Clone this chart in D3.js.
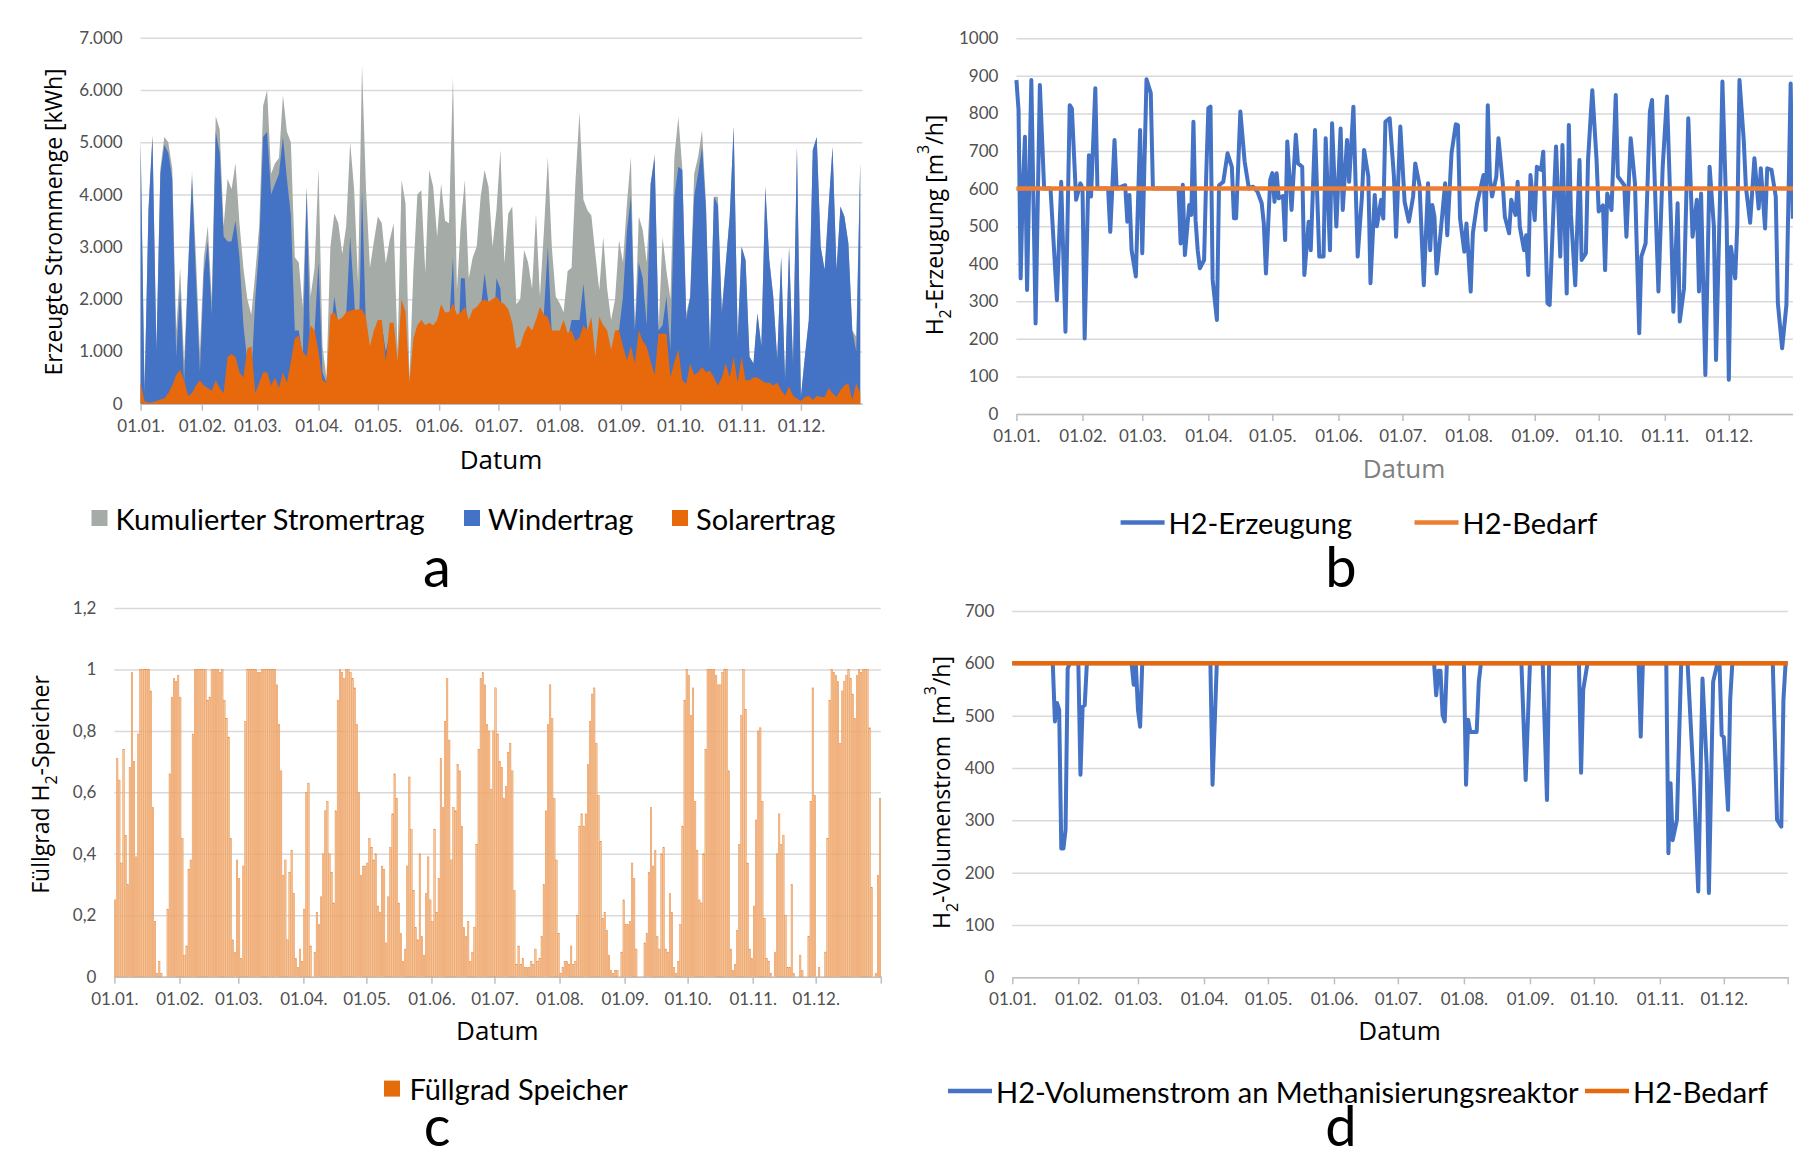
<!DOCTYPE html>
<html>
<head>
<meta charset="utf-8">
<script src="https://cdn.jsdelivr.net/npm/d3@7"></script>
<style>
  body { margin: 0; background: #fff; }
  svg { display: block; }
</style>
</head>
<body>
<div id="chart"></div>
<script>
// Monatsanfaenge (Tag im Jahr) und Beschriftungen
const monthDays = [0, 31, 59, 90, 120, 151, 181, 212, 243, 273, 304, 334];
const monthLabels = ["01.01.", "01.02.", "01.03.", "01.04.", "01.05.", "01.06.",
  "01.07.", "01.08.", "01.09.", "01.10.", "01.11.", "01.12."];

// a: Stromertrag, alle 2 Tage (Tsd. kWh)
const aStep = 2;
const totalA = [5.1,0.3,3.75,5.15,1.05,4.5,5.1,5.0,4.5,1.4,
  2.6,0.8,2.6,4.45,2.8,1.0,2.8,3.4,2.0,5.5,
  5.25,3.4,4.3,4.1,4.6,3.45,2.6,2.0,1.7,2.5,
  3.4,5.7,6.0,4.4,4.6,4.7,5.9,5.2,5.0,2.8,
  2.7,1.85,4.15,2.05,2.6,4.5,1.1,0.5,3.0,3.64,
  3.45,2.87,3.4,5.0,4.1,2.3,6.48,4.1,2.6,3.1,
  3.58,3.45,2.68,3.13,3.45,1.0,4.28,3.83,0.5,2.55,
  4.0,4.08,2.5,4.47,4.15,3.19,4.21,3.5,3.45,6.25,
  2.17,3.45,4.28,2.4,2.8,3.0,3.96,4.47,4.15,3.0,
  3.7,4.85,2.68,3.64,3.77,1.9,2.0,2.94,2.7,2.2,
  3.64,2.05,3.3,4.72,3.0,2.05,1.92,1.75,2.54,2.6,
  4.28,5.58,3.9,3.7,3.6,2.87,2.17,3.19,2.2,1.6,
  2.0,3.13,2.7,3.83,4.72,1.4,3.58,3.32,2.7,4.21,
  4.78,1.4,3.19,2.54,2.0,4.72,5.49,4.5,1.73,2.05,
  4.4,4.72,5.23,3.83,1.1,3.96,3.96,1.8,2.68,3.6,
  5.3,1.3,3.0,2.75,0.9,0.77,1.73,1.1,4.15,2.75,
  2.05,0.85,2.81,0.45,3.0,0.77,4.91,0.13,0.9,1.6,
  4.85,5.1,3.0,2.56,3.77,4.91,2.56,3.77,3.58,3.07,
  1.4,1.28,4.6];
const windA = [5.0,0.2,3.7,5.1,1.0,4.4,4.95,4.8,4.3,0.9,
  2.2,0.4,2.5,4.3,2.4,0.6,2.5,3.1,1.7,5.2,
  4.8,3.2,3.1,3.1,3.5,2.8,1.5,0.8,0.5,2.0,
  3.0,5.1,5.2,4.0,4.2,4.4,5.1,4.3,3.6,1.4,
  1.4,0.9,4.1,0.6,1.4,2.7,0.6,0.4,1.3,2.05,
  1.5,1.2,1.7,3.2,2.05,0.5,4.1,1.4,1.0,1.2,
  1.5,1.5,1.0,1.3,1.5,0.3,1.9,1.6,0.1,1.1,
  1.5,1.5,0.9,1.5,1.4,1.4,1.8,1.5,1.5,2.8,
  0.5,2.4,2.4,0.8,1.0,1.2,1.8,2.5,1.9,1.0,
  2.4,2.2,0.8,1.7,1.5,0.8,0.9,1.3,1.2,0.9,
  1.6,0.2,1.73,3.0,1.3,0.65,0.5,0.15,1.2,1.6,
  1.6,1.6,2.3,1.4,1.4,0.77,1.0,1.4,0.9,0.95,
  1.0,1.4,2.05,3.3,3.96,1.4,2.7,2.4,1.5,4.21,
  4.7,1.4,1.5,2.05,1.03,3.96,4.53,4.47,1.6,2.05,
  3.96,4.4,4.91,3.7,1.0,3.96,3.8,1.73,2.68,3.58,
  5.3,1.22,3.0,2.75,0.9,0.77,1.73,1.1,4.15,2.75,
  2.05,0.85,2.81,0.45,3.0,0.77,4.91,0.13,0.9,1.6,
  4.85,5.1,3.0,2.56,3.77,4.91,2.56,3.77,3.58,3.07,
  1.4,1.0,4.6];
const solarA = [0.4,0.05,0.02,0.03,0.05,0.08,0.1,0.2,0.35,0.55,
  0.65,0.45,0.15,0.2,0.35,0.45,0.35,0.3,0.25,0.45,
  0.3,0.2,0.9,0.95,0.9,0.6,0.5,1.05,1.1,0.2,
  0.4,0.6,0.6,0.35,0.5,0.3,0.6,0.4,0.8,1.25,
  1.3,1.0,0.9,1.5,1.4,1.0,0.45,0.4,1.7,1.75,
  1.6,1.65,1.75,1.78,1.8,1.8,1.8,1.65,1.1,1.4,
  1.6,1.6,0.8,1.55,1.55,0.8,2.0,1.75,0.4,1.25,
  1.5,1.6,1.5,1.55,1.5,1.6,1.9,1.75,1.75,1.92,
  1.7,1.75,1.85,1.6,1.8,1.85,1.95,2.0,1.95,2.0,
  2.05,1.95,1.9,1.8,1.55,1.05,1.1,1.35,1.5,1.4,
  1.6,1.85,1.7,1.66,1.4,1.4,1.4,1.6,1.35,1.4,
  1.2,1.27,1.5,1.4,1.66,0.9,1.66,1.5,1.4,1.03,
  1.4,1.41,1.1,0.83,1.1,0.77,1.4,1.2,1.09,0.8,
  0.55,1.34,1.34,1.34,0.5,0.8,1.03,0.45,0.38,0.77,
  0.55,0.6,0.7,0.6,0.63,0.5,0.35,0.5,0.77,0.5,
  0.9,0.4,0.9,0.45,0.45,0.5,0.5,0.45,0.4,0.4,
  0.35,0.4,0.26,0.15,0.33,0.15,0.1,0.05,0.13,0.15,
  0.07,0.15,0.13,0.13,0.3,0.2,0.13,0.26,0.35,0.39,
  0.07,0.39,0.2];
const aYTicks = [0, 1000, 2000, 3000, 4000, 5000, 6000, 7000];

// b: H2-Erzeugung [Tag, m3/h]
const h2Erzeugung = [[0,889],[1,810],[2,361],[3,600],[4,738],[5,330],[7,889],[9,241],[11,876],[13,600],
  [16,600],[19,303],[21,618],[23,219],[25,822],[26,813],[28,570],[30,614],[31,600],[32,201],
  [34,689],[35,579],[37,867],[38,600],[43,600],[44,485],[46,729],[47,600],[51,609],[52,512],
  [53,583],[54,436],[56,366],[58,756],[59,428],[61,891],[63,854],[64,600],[76,600],[77,454],
  [78,610],[79,423],[81,556],[82,530],[83,778],[84,516],[85,436],[86,388],[88,410],[89,636],
  [90,814],[91,818],[92,357],[94,250],[95,609],[97,618],[99,694],[101,658],[102,521],[103,521],
  [105,805],[107,672],[109,600],[111,605],[113,592],[115,561],[116,507],[117,374],[119,623],[120,641],
  [121,565],[122,641],[123,574],[125,580],[126,463],[127,725],[129,543],[131,743],[132,667],[134,658],
  [135,370],[137,512],[138,436],[140,756],[142,419],[144,419],[145,734],[147,436],[148,774],[150,499],
  [152,760],[153,543],[155,729],[156,618],[158,818],[160,419],[162,579],[163,703],[165,632],[166,348],
  [168,583],[169,500],[171,570],[172,520],[173,778],[175,787],[177,632],[178,472],[180,765],[182,565],
  [184,512],[186,579],[187,667],[189,609],[191,343],[193,614],[194,436],[195,556],[196,525],[197,374],
  [199,490],[201,614],[202,476],[204,694],[206,771],[207,769],[208,521],[210,432],[211,507],[213,326],
  [214,481],[216,561],[219,636],[220,490],[221,822],[222,627],[223,579],[225,632],[226,734],[228,614],
  [229,525],[231,481],[232,570],[234,530],[235,618],[236,499],[238,436],[239,476],[240,370],[241,636],
  [243,516],[244,658],[246,650],[247,698],[249,295],[250,290],[252,574],[253,712],[255,419],[256,716],
  [258,321],[259,769],[260,530],[262,343],[264,676],[265,410],[267,428],[268,676],[270,862],[272,676],
  [273,539],[275,555],[276,383],[277,587],[279,543],[281,849],[282,632],[285,609],[286,472],[288,734],
  [290,614],[292,215],[293,419],[295,454],[297,805],[298,836],[301,326],[303,658],[305,845],[307,490],
  [308,272],[310,561],[311,246],[313,335],[315,787],[317,472],[319,570],[320,326],[321,587],[323,104],
  [325,658],[327,499],[328,144],[330,605],[331,885],[333,507],[334,91],[335,445],[337,361],[338,507],
  [339,889],[341,729],[342,605],[344,509],[346,681],[348,547],[349,654],[351,494],[352,654],[354,650],
  [356,579],[357,295],[359,175],[361,290],[363,880],[364,520]];
const h2Bedarf = 600;
const bYTicks = [0, 100, 200, 300, 400, 500, 600, 700, 800, 900, 1000];

// c: Fuellgrad Speicher, taeglich
const fuellgrad = [
  0.25,0.71,0.64,0.37,0.74,0.46,0.30,0.68,0.99,0.70,0.39,0.79,1,1,1,1,1,0.93,0.55,0.18,0.01,0.05,0.01,0,0,0.22,0.66,0.91,0.97,0.96,0.98,
  0.91,0.45,0.07,0.10,0.35,0.38,0.79,1,1,1,1,1,1,0.90,0.91,1,1,1,1,0.99,1,0.90,0.84,0.78,0.45,0.12,0.08,0.38,
  0.32,0.06,0.36,0.83,1,1,1,1,1,0.99,0.99,1,1,1,1,1,1,1,0.95,0.82,0.67,0.33,0.38,0.12,0.34,0.41,0.27,0.06,0.03,0.09,0.05,
  0.22,0.60,0.63,0.10,0,0.08,0.21,0.17,0.26,0.40,0.54,0.57,0.40,0.34,0.24,0.54,0.90,1,0.99,0.97,1,1,0.99,0.97,0.94,0.82,0.60,0.33,0.36,0.36,
  0.37,0.45,0.42,0.38,0.40,0.23,0.21,0.36,0.35,0.11,0.26,0.42,0.53,0.66,0.58,0.24,0.14,0.05,0.09,0.36,0.65,0.48,0.28,0.16,0.12,0.40,0.13,0.07,0.27,0.39,0.25,
  0.18,0.48,0.21,0.32,0.71,0.55,0.83,0.97,0.77,0.38,0.55,0.54,0.69,0.67,0.49,0.16,0.13,0.18,0.05,0.08,0.16,0.43,0.74,0.97,0.99,0.95,0.82,0.80,0.61,0.80,
  0.94,0.79,0.70,0.68,0.58,0.62,0.73,0.76,0.67,0.28,0.04,0.10,0.04,0.06,0.03,0.03,0.03,0.05,0.04,0.09,0.05,0.06,0.13,0.30,0.54,0.82,0.95,0.84,0.58,0.38,0.14,
  0.01,0.03,0.05,0.05,0.04,0.10,0.04,0.05,0.20,0.49,0.53,0.49,0.53,0.69,0.83,0.92,0.94,0.76,0.59,0.44,0.19,0.21,0.15,0.07,0.02,0.01,0.02,0.02,0,0.08,0.25,
  0.17,0.17,0.18,0.37,0.32,0.09,0,0,0,0.11,0.14,0.34,0.55,0.36,0.41,0.13,0.09,0.40,0.42,0.09,0.08,0.27,0.21,0.03,0.01,0.05,0.17,0.49,0.90,1,
  0.98,0.85,0.94,0.57,0.41,0.25,0.24,0.40,0.74,1,1,1,1,0.98,0.95,0.95,0.99,1,1,0.67,0.09,0.02,0.04,0.15,0.43,0.85,1,0.87,0.37,0.09,0.06,
  0.23,0.51,0.80,0.81,0.57,0.19,0.06,0.05,0.01,0,0.08,0.40,0.53,0.43,0.46,0.20,0.03,0.03,0.30,0.01,0,0,0.07,0.02,0,0,0.13,0.57,0.94,0.59,
  0,0.03,0,0,0.08,0.45,0.90,1,0.99,0.98,0.96,0.76,0.93,0.96,0.98,1,0.97,0.92,0.84,0.98,1,0.99,1,1,1,0.81,0.29,0,0.01,0.33,0.58];
const cYTicks = [0, 0.2, 0.4, 0.6, 0.8, 1, 1.2];

// d: H2-Volumenstrom an Methanisierungsreaktor [Tag, m3/h]
const h2Volumenstrom = [[0,600],[19,600],[20,489],[21,524],[22,511],[23,246],[24,246],[25,282],[26,590],[27,600],
  [31,600],[32,387],[33,517],[34,520],[35,600],[56,600],[57,559],[58,597],[59,511],[60,479],
  [61,600],[93,600],[94,368],[96,600],[198,600],[199,539],[200,586],[201,586],[202,501],[203,489],
  [204,600],[212,600],[213,368],[214,492],[215,469],[218,469],[219,565],[220,600],[239,600],[241,377],
  [243,600],[249,600],[251,339],[252,600],[266,600],[267,391],[268,549],[270,600],[294,600],[295,460],
  [296,600],[307,600],[308,237],[309,371],[310,262],[312,301],[313,454],[314,600],[317,600],[320,364],
  [322,164],[324,571],[326,403],[327,161],[329,565],[331,600],[332,600],[333,463],[334,459],[336,320],
  [337,530],[338,600],[357,600],[359,301],[361,288],[362,530],[363,600],[364,600]];
const dYTicks = [0, 100, 200, 300, 400, 500, 600, 700];

const blue = "#4472C4";
const orange = "#E8690B";
const grey = "#A5ABA7";
const gridColor = "#D9D9D9";
const tickColor = "#505050";

const de = d3.formatLocale({ decimal: ",", thousands: ".", grouping: [3], currency: ["", " €"] });

const svg = d3.select("#chart")
  .append("svg")
  .attr("width", 1793)
  .attr("height", 1161)
  .style("font-family", "Lato, sans-serif");

function drawFrame(x, y, yTicks, fmt, xEnd) {
  const [l, r] = x.range();
  const [b, t] = y.range();
  svg.append("g")
    .attr("transform", `translate(${l},0)`)
    .call(d3.axisLeft(y).tickValues(yTicks).tickFormat(fmt).tickSize(-(r - l)).tickPadding(18))
    .call((g) => g.select(".domain").remove())
    .call((g) => g.selectAll("line").attr("stroke", gridColor).attr("stroke-width", 1.5))
    .call((g) => g.selectAll("text").attr("fill", tickColor).style("font-size", "17px").style("font-family", "Lato"));

  const ticks = xEnd == null ? monthDays : monthDays.concat([xEnd]);
  svg.append("g")
    .attr("transform", `translate(0,${b})`)
    .call(d3.axisBottom(x).tickValues(ticks)
      .tickFormat((d) => { const i = monthDays.indexOf(d); return i < 0 ? "" : monthLabels[i]; })
      .tickSize(7).tickPadding(9).tickSizeOuter(0))
    .call((g) => g.select(".domain").attr("stroke", "#BFBFBF").attr("stroke-width", 1.5))
    .call((g) => g.selectAll("line").attr("stroke", "#BFBFBF").attr("stroke-width", 1.5))
    .call((g) => g.selectAll("text").attr("fill", tickColor).style("font-size", "17px").style("font-family", "Lato"));
}

function yTitle(cx, cy, parts) {
  const t = svg.append("text")
    .attr("transform", `translate(${cx},${cy}) rotate(-90)`)
    .attr("text-anchor", "middle")
    .attr("dominant-baseline", "central")
    .attr("fill", "#000")
    .style("font-family", "Open Sans")
    .style("font-size", "23px")
    .style("white-space", "pre");
  parts.forEach((p) => {
    const s = t.append("tspan").text(p.t);
    if (p.sub) s.attr("baseline-shift", "sub").style("font-size", "16px");
    if (p.sup) s.attr("baseline-shift", "super").style("font-size", "16px");
  });
}

function label(x, y, txt, size, color, family, anchor) {
  svg.append("text")
    .attr("x", x)
    .attr("y", y)
    .attr("text-anchor", anchor || "middle")
    .attr("dominant-baseline", "central")
    .attr("fill", color)
    .style("font-family", family)
    .style("font-size", size + "px")
    .text(txt);
}

function letter(x, y, txt) {
  svg.append("text").attr("x", x).attr("y", y).attr("text-anchor", "middle")
    .style("font-family", "Lato").style("font-size", "56px").text(txt);
}

// ---------- a ----------
const xA = d3.scaleLinear().domain([0, 365]).range([140.6, 862.2]);
const yA = d3.scaleLinear().domain([0, 7000]).range([403.7, 37.7]);
drawFrame(xA, yA, aYTicks, de.format(","));

const areaA = (arr) => d3.area()
  .x((d, i) => xA(i * aStep))
  .y0(yA(0))
  .y1((d) => yA(d * 1000))(arr);

svg.append("path").attr("d", areaA(totalA)).attr("fill", grey);
svg.append("path").attr("d", areaA(windA)).attr("fill", blue);
svg.append("path").attr("d", areaA(solarA)).attr("fill", orange);

yTitle(52.6, 222, [{ t: "Erzeugte Strommenge [kWh]" }]);
label(501, 458.5, "Datum", 26, "#000", "Open Sans");

const legA = [
  { name: "Kumulierter Stromertrag", color: grey, x: 91.5 },
  { name: "Windertrag", color: blue, x: 464 },
  { name: "Solarertrag", color: orange, x: 672 }
];
legA.forEach((d) => {
  svg.append("rect").attr("x", d.x).attr("y", 510).attr("width", 16).attr("height", 16).attr("fill", d.color);
  label(d.x + 24, 518, d.name, 29, "#000", "Lato", "start");
});
letter(437, 587, "a");

// ---------- b ----------
const xB = d3.scaleLinear().domain([0, 364]).range([1016.4, 1792.8]);
const yB = d3.scaleLinear().domain([0, 1000]).range([414, 38.3]);
drawFrame(xB, yB, bYTicks, (d) => String(d));

svg.append("path")
  .datum(h2Erzeugung)
  .attr("d", d3.line().x((d) => xB(d[0])).y((d) => yB(d[1])))
  .attr("fill", "none")
  .attr("stroke", blue)
  .attr("stroke-width", 4)
  .attr("stroke-linejoin", "round");
svg.append("line")
  .attr("x1", xB(0)).attr("x2", 1793)
  .attr("y1", yB(h2Bedarf)).attr("y2", yB(h2Bedarf))
  .attr("stroke", "#ED7D31").attr("stroke-width", 4.5);

yTitle(934, 225, [{ t: "H" }, { t: "2", sub: true }, { t: "-Erzeugung [m" }, { t: "3", sup: true }, { t: "/h]" }]);
label(1404, 467.7, "Datum", 26, "#7F7F7F", "Open Sans");

const legB = [
  { name: "H2-Erzeugung", color: blue, x: 1120.6 },
  { name: "H2-Bedarf", color: "#ED7D31", x: 1414.5 }
];
legB.forEach((d) => {
  svg.append("line").attr("x1", d.x).attr("x2", d.x + 44).attr("y1", 522.6).attr("y2", 522.6)
    .attr("stroke", d.color).attr("stroke-width", 4.5);
  label(d.x + 48, 522.6, d.name, 29, "#000", "Lato", "start");
});
letter(1341, 587, "b");

// ---------- c ----------
const xC = d3.scaleLinear().domain([0, 365]).range([114.4, 880.8]);
const yC = d3.scaleLinear().domain([0, 1.2]).range([976.7, 608]);
drawFrame(xC, yC, cYTicks, de.format(".1~f"), 365);

const bandC = d3.scaleBand().domain(d3.range(fuellgrad.length)).range(xC.range()).paddingInner(0.3);
svg.append("g")
  .selectAll("rect")
  .data(fuellgrad)
  .join("rect")
  .attr("x", (d, i) => bandC(i))
  .attr("y", (d) => yC(d))
  .attr("width", bandC.bandwidth())
  .attr("height", (d) => yC(0) - yC(d))
  .attr("fill", "#F4C89C")
  .attr("stroke", "#E9843A")
  .attr("stroke-width", 0.45);

yTitle(40, 784.5, [{ t: "Füllgrad H" }, { t: "2", sub: true }, { t: "-Speicher" }]);
label(497.4, 1030.3, "Datum", 26, "#000", "Open Sans");
svg.append("rect").attr("x", 384).attr("y", 1080.6).attr("width", 16).attr("height", 16).attr("fill", "#E46C0A");
label(409.4, 1088.6, "Füllgrad Speicher", 29, "#000", "Lato", "start");
letter(437, 1146, "c");

// ---------- d ----------
const xD = d3.scaleLinear().domain([0, 364]).range([1012.3, 1787.7]);
const yD = d3.scaleLinear().domain([0, 700]).range([977.3, 611]);
drawFrame(xD, yD, dYTicks, (d) => String(d), 364);

svg.append("path")
  .datum(h2Volumenstrom)
  .attr("d", d3.line().x((d) => xD(d[0])).y((d) => yD(d[1])))
  .attr("fill", "none")
  .attr("stroke", blue)
  .attr("stroke-width", 4)
  .attr("stroke-linejoin", "round");
svg.append("line")
  .attr("x1", xD(0)).attr("x2", xD(364))
  .attr("y1", yD(h2Bedarf)).attr("y2", yD(h2Bedarf))
  .attr("stroke", orange).attr("stroke-width", 4.5);

yTitle(941, 792.5, [{ t: "H" }, { t: "2", sub: true }, { t: "-Volumenstrom  [m" }, { t: "3", sup: true }, { t: "/h]" }]);
label(1399.6, 1030.3, "Datum", 26, "#000", "Open Sans");

const legD = [
  { name: "H2-Volumenstrom an Methanisierungsreaktor", color: blue, x: 948 },
  { name: "H2-Bedarf", color: orange, x: 1585 }
];
legD.forEach((d) => {
  svg.append("line").attr("x1", d.x).attr("x2", d.x + 44).attr("y1", 1091).attr("y2", 1091)
    .attr("stroke", d.color).attr("stroke-width", 4.5);
  label(d.x + 48, 1091, d.name, 29, "#000", "Lato", "start");
});
letter(1341, 1146, "d");
</script>
</body>
</html>
